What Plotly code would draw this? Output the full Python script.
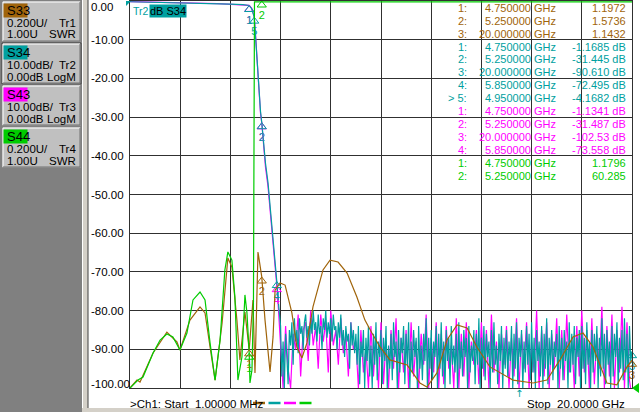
import numpy as np
import plotly.graph_objects as go

# trace colours
BROWN, TEAL, MAGENTA, GREEN = "#a0640a", "#00a0a0", "#ff00ff", "#00cc00"

# ---- Tr2 (S34) / Tr3 (S43): passband and skirt, GHz / dB
skirt_f = [0.001, 0.5, 1.0, 1.5, 2.0, 2.5, 3.0, 3.5, 4.0, 4.5, 4.75, 4.85, 4.95, 5.0,
           5.05, 5.1, 5.15, 5.2, 5.25, 5.3, 5.4, 5.5, 5.6, 5.7, 5.8, 5.85, 5.9, 5.95]
s34_skirt = [-0.2, -0.25, -0.3, -0.35, -0.45, -0.5, -0.6, -0.7, -0.8, -0.95, -1.17, -2.0, -4.17, -9.0,
             -14.0, -20.0, -25.0, -28.5, -31.4, -35.5, -42.0, -47.0, -54.0, -60.0, -68.0, -72.5, -77.0, -81.0]
s43_skirt = [-0.15, -0.2, -0.3, -0.4, -0.45, -0.55, -0.6, -0.7, -0.85, -0.95, -1.13, -1.9, -4.0, -8.5,
             -13.5, -19.5, -25.5, -29.0, -31.5, -36.0, -43.0, -48.0, -55.0, -61.0, -69.0, -73.6, -78.0, -83.0]

# noise floor: Tr2 every 0.05 GHz, Tr3 every 0.1 GHz (6 .. 20 GHz)
s34_noise_f = np.round(np.arange(6.0, 20.001, 0.05), 2)
s34_noise = [
    -84, -97, -88, -100, -86, -92, -99, -85, -89, -83, -94, -82, -88, -85, -91, -82, -86, -84, -90, -83,
    -81, -87, -84, -89, -82, -86, -80, -85, -83, -88, -81, -86, -84, -90, -82, -85, -80, -87, -83, -86,
    -82, -88, -81, -85, -84, -90, -83, -87, -81, -89, -85, -92, -84, -88, -86, -95, -83, -89, -85, -91,
    -86, -94, -84, -99, -88, -92, -85, -100, -87, -93, -84, -97, -89, -100, -86, -94, -83, -98, -88, -92,
    -85, -99, -87, -93, -84, -100, -89, -95, -86, -98, -83, -92, -88, -100, -85, -96, -87, -91, -84, -99,
    -86, -94, -83, -100, -88, -96, -85, -92, -87, -100, -84, -95, -89, -98, -86, -93, -82, -100, -87, -95,
    -85, -98, -88, -92, -84, -100, -86, -95, -83, -97, -88, -100, -85, -93, -87, -99, -84, -94, -89, -96,
    -86, -100, -83, -95, -88, -97, -85, -92, -87, -100, -84, -96, -89, -93, -85, -99, -86, -94, -82, -100,
    -87, -95, -84, -98, -86, -92, -88, -100, -85, -96, -83, -94, -89, -99, -86, -93, -84, -100, -87, -95,
    -85, -97, -88, -93, -84, -100, -86, -95, -83, -99, -87, -92, -85, -100, -88, -96, -84, -94, -86, -98,
    -83, -96, -87, -100, -85, -93, -88, -97, -84, -100, -86, -95, -82, -99, -87, -94, -85, -98, -88, -92,
    -86, -100, -84, -95, -87, -98, -85, -93, -88, -100, -83, -96, -86, -94, -84, -99, -87, -92, -85, -100,
    -84, -95, -87, -99, -83, -94, -88, -100, -85, -96, -86, -93, -84, -100, -87, -97, -82, -95, -86, -99,
    -85, -94, -88, -100, -84, -97, -86, -92, -83, -100, -87, -95, -85, -98, -82, -96, -86, -100, -84, -93,
    -90.6]
s43_noise_f = np.round(np.arange(6.0, 20.001, 0.1), 2)
s43_noise = [
    -88, -100, -84, -95, -100, -86, -90, -81, -97, -85,
    -83, -93, -80, -89, -84, -95, -81, -88, -83, -96,
    -80, -89, -85, -94, -82, -91, -86, -97, -83, -90,
    -88, -100, -85, -96, -90, -100, -84, -97, -87, -100,
    -83, -99, -88, -100, -85, -95, -82, -100, -87, -96,
    -85, -100, -83, -97, -88, -100, -86, -94, -81, -100,
    -87, -96, -83, -100, -86, -99, -84, -95, -89, -100,
    -82, -100, -86, -97, -83, -100, -88, -94, -85, -99,
    -83, -97, -85, -100, -81, -96, -88, -100, -86, -94,
    -84, -100, -87, -97, -82, -100, -86, -95, -83, -100,
    -88, -96, -80, -100, -85, -97, -83, -100, -86, -95,
    -82, -100, -85, -98, -81, -96, -87, -100, -84, -97,
    -80, -96, -85, -100, -82, -99, -86, -95, -79, -100,
    -84, -97, -81, -100, -85, -96, -79, -100, -83, -98,
    -102.5]

# ---- Tr1 (S33) and Tr4 (S44): SWR
s33_f = [0.001, 0.28, 0.40, 0.92, 1.47, 1.87, 1.99, 2.39, 2.79, 2.99, 3.19, 3.39, 3.67, 3.90, 4.06,
         4.26, 4.38, 4.58, 4.75, 4.90, 4.98, 5.10, 5.25, 5.38, 5.58, 5.70, 5.78, 5.98, 6.18, 6.45,
         6.65, 6.85, 7.05, 7.29, 7.69, 7.97, 8.29, 8.65, 9.04, 9.36, 9.64, 9.96, 10.36, 11.04, 11.55,
         11.83, 12.23, 12.63, 13.03, 13.43, 13.82, 14.34, 15.26, 16.06, 16.61, 17.13, 17.65, 18.05,
         18.45, 19.00, 19.40, 19.80, 20.0]
s33_swr = [1.000, 1.041, 1.031, 1.181, 1.289, 1.238, 1.196, 1.351, 1.419, 1.388, 1.212, 1.041, 1.336,
           1.672, 1.625, 1.351, 1.145, 1.393, 1.197, 1.455, 1.078, 1.703, 1.574, 1.351, 1.083, 1.264,
           1.506, 1.543, 1.532, 1.388, 1.212, 1.155, 1.233, 1.419, 1.610, 1.661, 1.651, 1.594, 1.470,
           1.351, 1.284, 1.212, 1.145, 1.119, 1.026, 1.005, 1.078, 1.248, 1.326, 1.310, 1.212, 1.109,
           1.041, 1.026, 1.041, 1.145, 1.264, 1.284, 1.212, 1.026, 1.016, 1.109, 1.143]
s44_f = [0.001, 0.32, 0.52, 0.92, 1.20, 1.47, 1.71, 1.99, 2.27, 2.51, 2.79, 2.99, 3.19, 3.39, 3.59,
         3.78, 3.90, 4.06, 4.18, 4.30, 4.46, 4.58, 4.66, 4.75, 4.78, 4.86, 4.92, 4.96, 20.0]
s44_swr = [1.000, 1.041, 1.057, 1.181, 1.248, 1.279, 1.264, 1.196, 1.284, 1.455, 1.496, 1.455, 1.233,
           1.041, 1.248, 1.610, 1.703, 1.661, 1.470, 1.041, 1.160, 1.481, 1.388, 1.180, 1.026, 1.093,
           1.45, 2.995, 2.995]

# ---- markers
s33_mk_f, s33_mk_v = [4.75, 5.25, 20.0], [1.1972, 1.5736, 1.1432]
s34_mk_f, s34_mk_v = [4.75, 5.25, 20.0, 5.85, 4.95], [-1.1685, -31.445, -90.610, -72.495, -4.1682]
s43_mk_f, s43_mk_v = [4.75, 5.25, 20.0, 5.85], [-1.1341, -31.487, -102.53, -73.558]
s44_mk_f, s44_mk_v = [4.75, 5.25], [1.1796, 60.285]
active_marker = 5  # on Tr2

# ---- channel boxes on the left
params = ["S33", "S34", "S43", "S44"]
scale_txt = ["0.200U/", "10.00dB/", "10.00dB/", "0.200U/"]
ref_txt = ["1.00U", "0.00dB", "0.00dB", "1.00U"]
tr_txt = ["Tr1", "Tr2", "Tr3", "Tr4"]
fmt_txt = ["SWR", "LogM", "LogM", "SWR"]
colors = [BROWN, TEAL, MAGENTA, GREEN]

db_ticks = list(range(0, -101, -10))

# pixel layout of the screen
L, R, T, B = 130, 632, 1, 388


def px(x):
    return (x - L) / (R - L)


def py(y):
    return (B - y) / (B - T)


DB_PX = 100 / (B - T)   # dB per pixel
SWR_PX = 2.0 / (B - T)  # SWR unit per pixel

fig = go.Figure()

fig.add_trace(go.Scatter(x=skirt_f + list(s43_noise_f), y=s43_skirt + s43_noise, mode="lines",
                         line=dict(color=MAGENTA, width=1.2)))
fig.add_trace(go.Scatter(x=skirt_f + list(s34_noise_f), y=s34_skirt + s34_noise, mode="lines",
                         line=dict(color=TEAL, width=1.2)))
fig.add_trace(go.Scatter(x=s33_f, y=s33_swr, mode="lines", yaxis="y2",
                         line=dict(color=BROWN, width=1.2)))
fig.add_trace(go.Scatter(x=s44_f, y=s44_swr, mode="lines", yaxis="y2",
                         line=dict(color=GREEN, width=1.2)))


def add_markers(f, v, color, axis, lo, hi, step):
    vv = np.clip(v, lo, hi) - 4 * step
    fig.add_trace(go.Scatter(
        x=f, y=vv, yaxis=axis, mode="markers+text", cliponaxis=False,
        text=[str(i + 1) for i in range(len(f))], textposition="bottom center",
        textfont=dict(color=color, size=11, family="Liberation Sans"),
        marker=dict(symbol="triangle-up-open", size=8, color=color, line=dict(width=1))))


add_markers(s43_mk_f, s43_mk_v, MAGENTA, "y", -100, 0, DB_PX)
add_markers(s34_mk_f, s34_mk_v, TEAL, "y", -100, 0, DB_PX)
add_markers(s33_mk_f, s33_mk_v, BROWN, "y2", 1.0, 3.0, SWR_PX)
add_markers(s44_mk_f, s44_mk_v, GREEN, "y2", 1.0, 3.0, SWR_PX)

shapes = []
ann = []
FONT = "Liberation Sans"

# left panel
shapes.append(dict(type="rect", xref="paper", yref="paper", x0=px(0), x1=px(82), y0=py(412), y1=py(0),
                   fillcolor="#808080", line=dict(width=0)))
shapes.append(dict(type="rect", xref="paper", yref="paper", x0=px(82), x1=px(88), y0=py(412), y1=py(0),
                   fillcolor="#d4d0c8", line=dict(width=0)))
shapes.append(dict(type="line", xref="paper", yref="paper", x0=px(82.5), x1=px(82.5), y0=py(412), y1=py(0),
                   line=dict(color="white", width=1)))
shapes.append(dict(type="line", xref="paper", yref="paper", x0=px(88), x1=px(88), y0=py(408), y1=py(0),
                   line=dict(color="#404040", width=1)))
shapes.append(dict(type="rect", xref="paper", yref="paper", x0=px(82), x1=px(640), y0=py(412), y1=py(408),
                   fillcolor="#d4d0c8", line=dict(width=0)))

for i in range(4):
    top = 1 + 42 * i
    bot = top + 41
    shapes.append(dict(type="rect", xref="paper", yref="paper", x0=px(2), x1=px(81), y0=py(bot), y1=py(top),
                       fillcolor="#c0c0c0", line=dict(color="#404040" if i == 1 else "#808080", width=1)))
    shapes.append(dict(type="path", xref="paper", yref="paper",
                       path=f"M {px(3)},{py(bot - 1)} L {px(3)},{py(top + 1)} L {px(80)},{py(top + 1)}",
                       line=dict(color="white", width=1)))
    shapes.append(dict(type="path", xref="paper", yref="paper",
                       path=f"M {px(3)},{py(bot - 1)} L {px(80)},{py(bot - 1)} L {px(80)},{py(top + 1)}",
                       line=dict(color="#707070", width=1)))
    shapes.append(dict(type="rect", xref="paper", yref="paper", x0=px(3.5), x1=px(27.5),
                       y0=py(top + 16.5), y1=py(top + 2.5), fillcolor=colors[i], line=dict(width=0)))
    ann.append(dict(x=px(4.5), y=py(top + 9.5), text=params[i], xanchor="left",
                    font=dict(size=13, color="black", family=FONT)))
    ann.append(dict(x=px(5), y=py(top + 22), text=scale_txt[i], xanchor="left",
                    font=dict(size=11.5, color="black", family=FONT)))
    ann.append(dict(x=px(78), y=py(top + 22), text=tr_txt[i], xanchor="right",
                    font=dict(size=11.5, color="black", family=FONT)))
    ann.append(dict(x=px(5), y=py(top + 33.5), text=ref_txt[i], xanchor="left",
                    font=dict(size=11.5, color="black", family=FONT)))
    ann.append(dict(x=px(78), y=py(top + 33.5), text=fmt_txt[i], xanchor="right",
                    font=dict(size=11.5, color="black", family=FONT)))

# y scale labels (left aligned like the analyser)
for v in db_ticks:
    yy = T + (-v) * (B - T) / 100
    yy = min(max(yy, 7), 384)
    ann.append(dict(x=px(89), y=py(yy), text=f"{v:.2f}", xanchor="left",
                    font=dict(size=11.5, color="black", family=FONT)))

# active trace title
ann.append(dict(x=px(131), y=py(11), text="Tr2", xanchor="left", font=dict(size=10.5, color=TEAL, family=FONT)))
ann.append(dict(x=px(149), y=py(11), text="dB S34", xanchor="left", bgcolor=TEAL, borderpad=0,
                font=dict(size=11, color="black", family=FONT)))


def fmt5(v):
    ip = len(str(int(abs(v))))
    return f"{v:.{max(5 - ip, 0)}f}"


# marker table
rows = []
for f, v in zip(s33_mk_f, s33_mk_v):
    rows.append((BROWN, f, fmt5(v)))
for f, v in zip(s34_mk_f, s34_mk_v):
    rows.append((TEAL, f, fmt5(v) + " dB"))
for f, v in zip(s43_mk_f, s43_mk_v):
    rows.append((MAGENTA, f, fmt5(v) + " dB"))
for f, v in zip(s44_mk_f, s44_mk_v):
    rows.append((GREEN, f, fmt5(v)))
nums = [1, 2, 3, 1, 2, 3, 4, 5, 1, 2, 3, 4, 1, 2]
for k, ((c, f, val), n) in enumerate(zip(rows, nums)):
    yy = 7.8 + 12.9 * k
    lab = f"{n}:"
    if c == TEAL and n == active_marker:
        lab = "> " + lab
    ann.append(dict(x=px(469), y=py(yy), text=lab, xanchor="right", font=dict(size=11, color=c, family=FONT)))
    ann.append(dict(x=px(558), y=py(yy), text=f"{f:.6f} GHz", xanchor="right",
                    font=dict(size=11, color=c, family=FONT)))
    ann.append(dict(x=px(628), y=py(yy), text=val, xanchor="right", font=dict(size=11, color=c, family=FONT)))

# status line
ann.append(dict(x=px(128), y=py(404), text=">Ch1: Start\u00a0\u00a01.00000 MHz", xanchor="left",
                font=dict(size=11.5, color="black", family=FONT)))
ann.append(dict(x=px(627), y=py(404), text="Stop\u00a0\u00a020.0000 GHz", xanchor="right",
                font=dict(size=11.5, color="black", family=FONT)))
for j, c in enumerate(colors):
    x0 = 253 + 15.5 * j
    shapes.append(dict(type="line", xref="paper", yref="paper", x0=px(x0), x1=px(x0 + 12),
                       y0=py(403), y1=py(403), line=dict(color=c, width=2.5)))

# reference position arrows
shapes.append(dict(type="path", xref="paper", yref="paper",
                   path=f"M {px(632)},{py(388)} L {px(639)},{py(383)} L {px(639)},{py(393)} Z",
                   fillcolor=GREEN, line=dict(width=0)))
shapes.append(dict(type="path", xref="paper", yref="paper",
                   path=f"M {px(126)},{py(1)} L {px(131)},{py(1)} L {px(126)},{py(6)} Z",
                   fillcolor=TEAL, line=dict(width=0)))
ann.append(dict(x=px(525), y=py(393), text="\u2191", font=dict(size=10, color=TEAL, family="DejaVu Sans")))

for a in ann:
    a.setdefault("xref", "paper")
    a.setdefault("yref", "paper")
    a.setdefault("yanchor", "middle")
    a["showarrow"] = False

fig.update_layout(
    width=640, height=412,
    margin=dict(l=L, r=640 - R, t=T, b=412 - B),
    paper_bgcolor="white", plot_bgcolor="white",
    showlegend=False,
    xaxis=dict(range=[0.001, 20.0], tick0=0.001, dtick=1.9999, showticklabels=False, ticks="",
               showgrid=True, gridcolor="#303030", gridwidth=1, zeroline=False,
               showline=True, mirror=True, linecolor="#303030", linewidth=1),
    yaxis=dict(range=[-100, 0], dtick=10, showticklabels=False, ticks="",
               showgrid=True, gridcolor="#303030", gridwidth=1, zeroline=False,
               showline=True, mirror=True, linecolor="#303030", linewidth=1),
    yaxis2=dict(range=[1.0, 3.0], overlaying="y", visible=False),
    shapes=shapes,
    annotations=ann,
)

fig.write_html("out.html", config={"displayModeBar": False},
               post_script="document.body.style.margin='0';")
